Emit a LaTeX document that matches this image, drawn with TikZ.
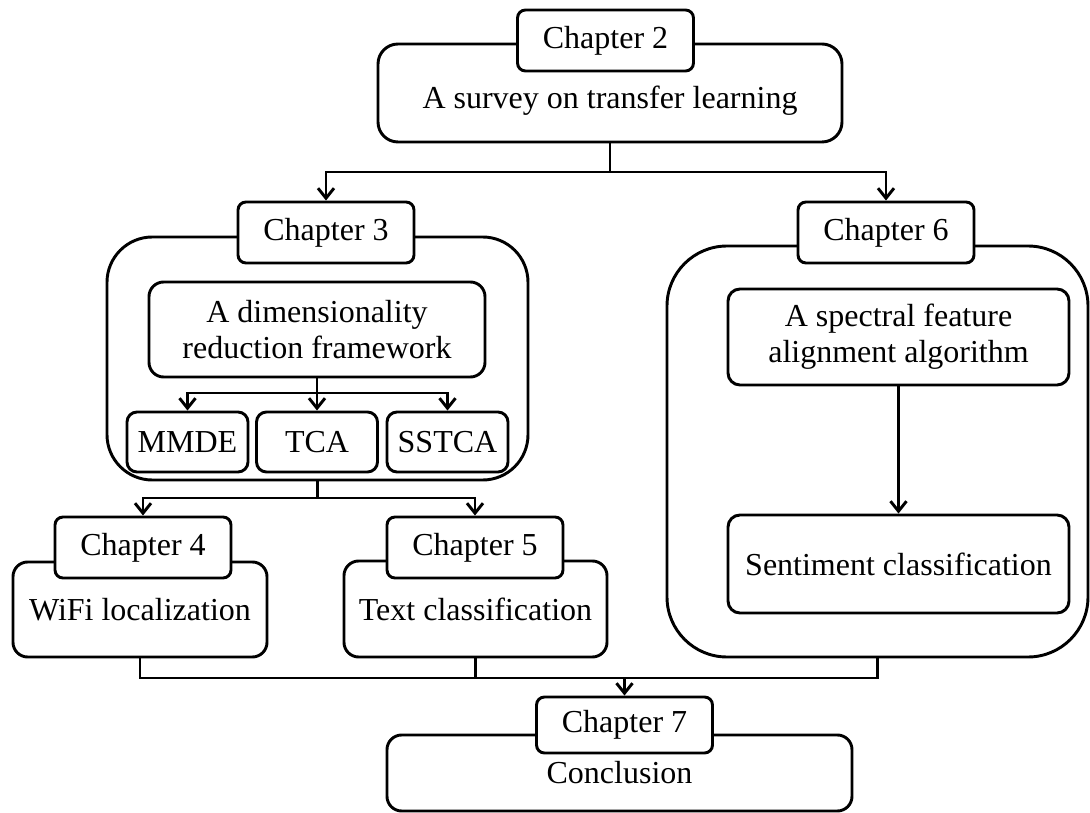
\documentclass[tikz,border=0pt]{standalone}
\usepackage{fontspec}
\setmainfont{Liberation Serif}
\usepackage{tikz}
\usetikzlibrary{arrows.meta, positioning}
\tikzset{
  chapter/.style = {draw, fill=white, rectangle, rounded corners=6pt, minimum width=132pt, minimum height=45.75pt, inner sep=0pt},
  frame/.style = {draw, rectangle, inner sep=0pt, align=center},
  part/.style = {draw, rectangle, rounded corners=7.5pt, minimum width=90.75pt, minimum height=45pt, inner sep=0pt},
  junction/.style = {coordinate}
}

\begin{document}
\begin{tikzpicture}[x=0.75pt, y=-0.75pt, line width=2.2pt, >={Straight Barb[length=7.5pt, width=12pt]},
    font=\fontsize{24}{27}\selectfont]

    \useasboundingbox (0,0) rectangle (1090,813);

    % Place the big frames first
    \node [frame, rounded corners=15pt, minimum width=348pt, minimum height=73.5pt,
           label={[yshift=-6pt]center:A survey on transfer learning}] (survey) at (610,93) {};
    \node [frame, rounded corners=34pt, minimum width=315.75pt, minimum height=182.25pt] (ch3box) at (317.5,358.5) {};
    \node [frame, rounded corners=45pt, minimum width=315.75pt, minimum height=308.25pt] (ch6box) at (877.5,451.5) {};
    \node [frame, rounded corners=11pt, minimum width=190.5pt, minimum height=71.25pt] (wifi) at (140,609.5) {WiFi localization};
    \node [frame, rounded corners=11pt, minimum width=197.25pt, minimum height=72pt] (text) at (475.5,609) {Text classification};
    \node [frame, rounded corners=11pt, minimum width=348.75pt, minimum height=57pt] (conclusion) at (619.5,773) {Conclusion};

    % Inner boxes
    \node [frame, rounded corners=11pt, minimum width=252pt, minimum height=71.25pt] (dim) at (317,329.5) {A dimensionality\\reduction framework};
    \node [part] (mmde) at (187.5,442) {MMDE};
    \node [part] (tca) at (317,442) {TCA};
    \node [part] (sstca) at (447.5,442) {SSTCA};
    \node [frame, rounded corners=9pt, minimum width=255.75pt, minimum height=72pt] (spectral) at (898.5,337) {A spectral feature\\alignment algorithm};
    \node [frame, rounded corners=9pt, minimum width=255.75pt, minimum height=73.5pt] (sentiment) at (898.5,564) {Sentiment classification};

    % Chapter tags on top of the frames
    \node [chapter] (ch2) at (605.5,40.5) {Chapter 2};
    \node [chapter] (ch3) at (326,232.5) {Chapter 3};
    \node [chapter] (ch6) at (886,232.5) {Chapter 6};
    \node [chapter] (ch4) at (143,547.5) {Chapter 4};
    \node [chapter] (ch5) at (475,547.5) {Chapter 5};
    \node [chapter, minimum height=42pt] (ch7) at (624.5,725) {Chapter 7};

    % Junction points
    \node [junction] (split) at (610,172) {};
    \node [junction] (dimsplit) at (317,393) {};
    \node [junction] (ch3split) at (317.5,498) {};
    \node [junction] (merge) at (624.5,678) {};

    % Draw the arrows
    \draw (survey.south) -- (split);
    \draw [->] (split) -| (ch3.north);
    \draw [->] (split) -| (ch6.north);

    \draw (dim.south) -- (dimsplit);
    \draw [->] (dimsplit) -| (mmde.north);
    \draw [->] (dimsplit) -- (tca.north);
    \draw [->] (dimsplit) -| (sstca.north);

    \draw [->] (spectral.south) -- (sentiment.north);

    \draw (ch3box.south) -- (ch3split);
    \draw [->] (ch3split) -| (ch4.north);
    \draw [->] (ch3split) -| (ch5.north);

    % Merge into the conclusion
    \draw (wifi.south) |- (merge) -| (ch6box.south);
    \draw (text.south) -- (text.south |- merge);
    \draw [->] (merge) -- (ch7.north);

\end{tikzpicture}
\end{document}
